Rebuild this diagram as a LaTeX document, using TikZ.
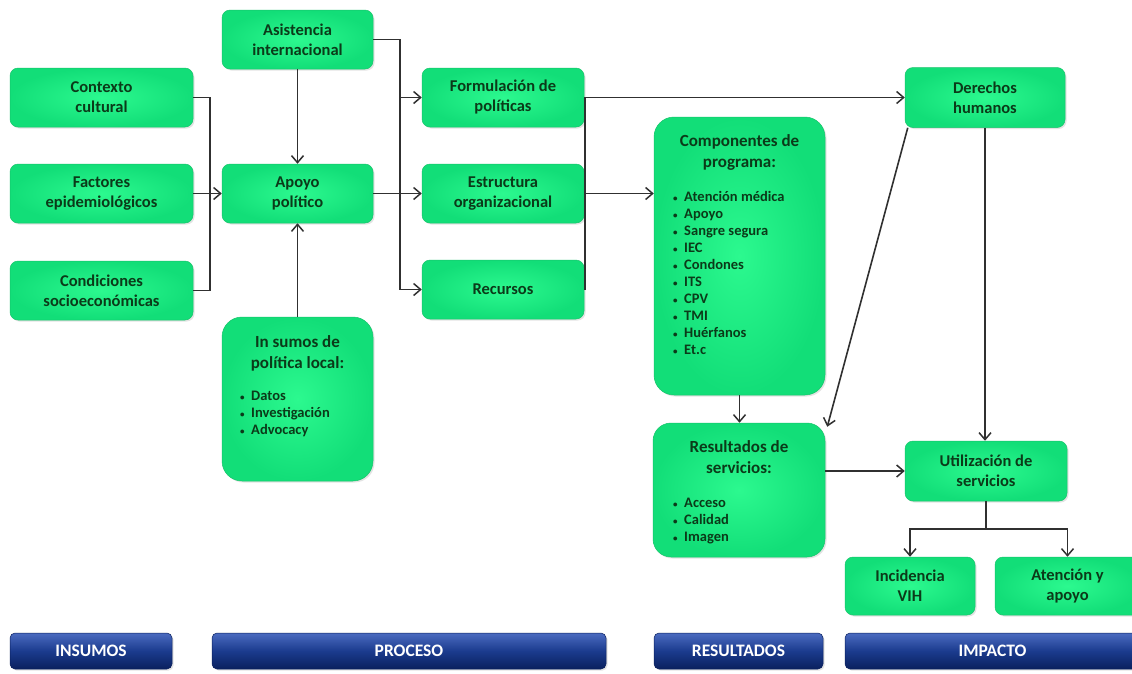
\documentclass[tikz,border=0pt]{standalone}
\usepackage{fontspec}
\setmainfont{Carlito}
\usetikzlibrary{arrows.meta,shadows}
\definecolor{gin}{HTML}{2CF98F}
\definecolor{gout}{HTML}{12DE78}
\definecolor{gedge}{HTML}{17C46B}
\definecolor{gtext}{HTML}{0B3A19}
\definecolor{lineg}{HTML}{303030}
\definecolor{bartop}{HTML}{4B6BC0}
\definecolor{barmid}{HTML}{1B3B8E}
\definecolor{barbot}{HTML}{0A205E}
\newcommand{\bul}{{\fontsize{9}{9}\selectfont\textbullet}\ \ }
\tikzset{
  gbox/.style={inner color=gin, outer color=gout, draw=gedge, line width=0.5pt, rounded corners=8pt,
    drop shadow={opacity=0.22, shadow xshift=1.5pt, shadow yshift=-1.5pt},
    text=gtext, font=\fontsize{16.5}{20}\selectfont\bfseries, align=center, inner sep=0pt},
  tallbox/.style={gbox, rounded corners=20pt},
  gtxt/.style={text=gtext, font=\fontsize{17}{21}\selectfont\bfseries, align=center, inner sep=0pt},
  glist/.style={text=gtext, font=\fontsize{14.5}{17}\selectfont\bfseries, align=left, inner sep=0pt, anchor=north west},
  bar/.style={top color=bartop, bottom color=barbot, middle color=barmid, draw=barbot, line width=0.5pt, rounded corners=5pt,
    drop shadow={opacity=0.22, shadow xshift=1.5pt, shadow yshift=-1.5pt},
    minimum height=36pt, text=white, font=\fontsize{17.5}{19}\selectfont\bfseries, inner sep=0pt},
  ln/.style={draw=lineg, line width=1.6pt},
  arr/.style={ln, -{Straight Barb[length=7pt,width=12pt,line width=1.5pt]}},
}
\begin{document}
\begin{tikzpicture}[x=1pt,y=-1pt]
\useasboundingbox[fill=white] (0,0) rectangle (1132,673);
% insumos
\node[gbox, minimum width=183pt, minimum height=59pt] (ctx) at (101.5,97.5) {Contexto\\cultural};
\node[gbox, minimum width=183pt, minimum height=59pt] (fac) at (101.5,193.5) {Factores\\epidemiológicos};
\node[gbox, minimum width=183pt, minimum height=59pt] (con) at (101.5,290.5) {Condiciones\\socioeconómicas};
% proceso
\node[gbox, minimum width=151pt, minimum height=59pt] (asi) at (297.5,39.5) {Asistencia\\internacional};
\node[gbox, minimum width=151pt, minimum height=59pt] (apo) at (297.5,193.5) {Apoyo\\político};
\node[tallbox, minimum width=151pt, minimum height=164pt] (ins) at (297.5,399) {};
\node[gtxt] (insT) at (297.5,353) {In sumos de\\política local:};
\node[glist] (insL) at (240,391) {\bul Datos\\\bul Investigación\\\bul Advocacy};
\node[gbox, minimum width=162pt, minimum height=59pt] (for) at (503,97.5) {Formulación de\\políticas};
\node[gbox, minimum width=162pt, minimum height=59pt] (est) at (503,193.5) {Estructura\\organizacional};
\node[gbox, minimum width=162pt, minimum height=59pt] (rec) at (503,289.5) {Recursos};
% resultados
\node[tallbox, minimum width=171pt, minimum height=278pt] (com) at (739.5,256) {};
\node[gtxt] (comT) at (739.5,152) {Componentes de\\programa:};
\node[glist] (comL) at (673,191) {\bul Atención médica\\\bul Apoyo\\\bul Sangre segura\\\bul IEC\\\bul Condones\\\bul ITS\\\bul CPV\\\bul TMI\\\bul Huérfanos\\\bul Et.c};
\node[tallbox, rounded corners=18pt, minimum width=172pt, minimum height=134pt] (res) at (739,490) {};
\node[gtxt] (resT) at (739,457) {Resultados de\\servicios:};
\node[glist] (resL) at (673,498) {\bul Acceso\\\bul Calidad\\\bul Imagen};
% impacto
\node[gbox, minimum width=160pt, minimum height=60pt] (der) at (985,97.5) {Derechos\\humanos};
\node[gbox, minimum width=162pt, minimum height=60pt] (uti) at (986,471) {Utilización de\\servicios};
\node[gbox, minimum width=130pt, minimum height=58pt] (inc) at (910,586) {Incidencia\\VIH};
\node[gbox, minimum width=145pt, minimum height=58pt] (ate) at (1067.5,586) {Atención y\\apoyo};
% bars
\node[bar, minimum width=162pt] (b1) at (91,651) {INSUMOS};
\node[bar, minimum width=394pt] (b2) at (409,651) {PROCESO};
\node[bar, minimum width=169pt] (b3) at (738.5,651) {RESULTADOS};
\node[bar, minimum width=295pt] (b4) at (992.5,651) {IMPACTO};
% junction coordinates
\coordinate (j1) at (210,193.5);
\coordinate (j2) at (400,193.5);
\coordinate (j3) at (585,193.5);
\coordinate (j4) at (986,529);
% connectors
\draw[ln] (ctx.east) -| (j1 |- con.east) -- (con.east);
\draw[arr] (fac.east) -- (apo.west);
\draw[arr] (asi.south) -- (apo.north);
\draw[arr] (ins.north) -- (apo.south);
\draw[ln] (asi.east) -| (j2 |- rec.west);
\draw[arr] (j2 |- for.west) -- (for.west);
\draw[arr] (apo.east) -- (est.west);
\draw[arr] (j2 |- rec.west) -- (rec.west);
\draw[ln] (j3 |- for.east) -- (j3 |- rec.east) -- (rec.east);
\draw[arr] (for.east) -- (der.west);
\draw[arr] (est.east) -- (est.east -| com.west);
\draw[arr] ([xshift=3pt]der.south west) -- ([xshift=2pt,yshift=-4pt]res.north east);
\draw[arr] (der.south) -- (der.south |- uti.north);
\draw[arr] (com.south) -- (com.south |- res.north);
\draw[arr] (res.east |- uti.west) -- (uti.west);
\draw[ln] (uti.south) -- (j4);
\draw[arr] (j4) -| (inc.north);
\draw[arr] (j4) -| (ate.north);
\end{tikzpicture}
\end{document}
